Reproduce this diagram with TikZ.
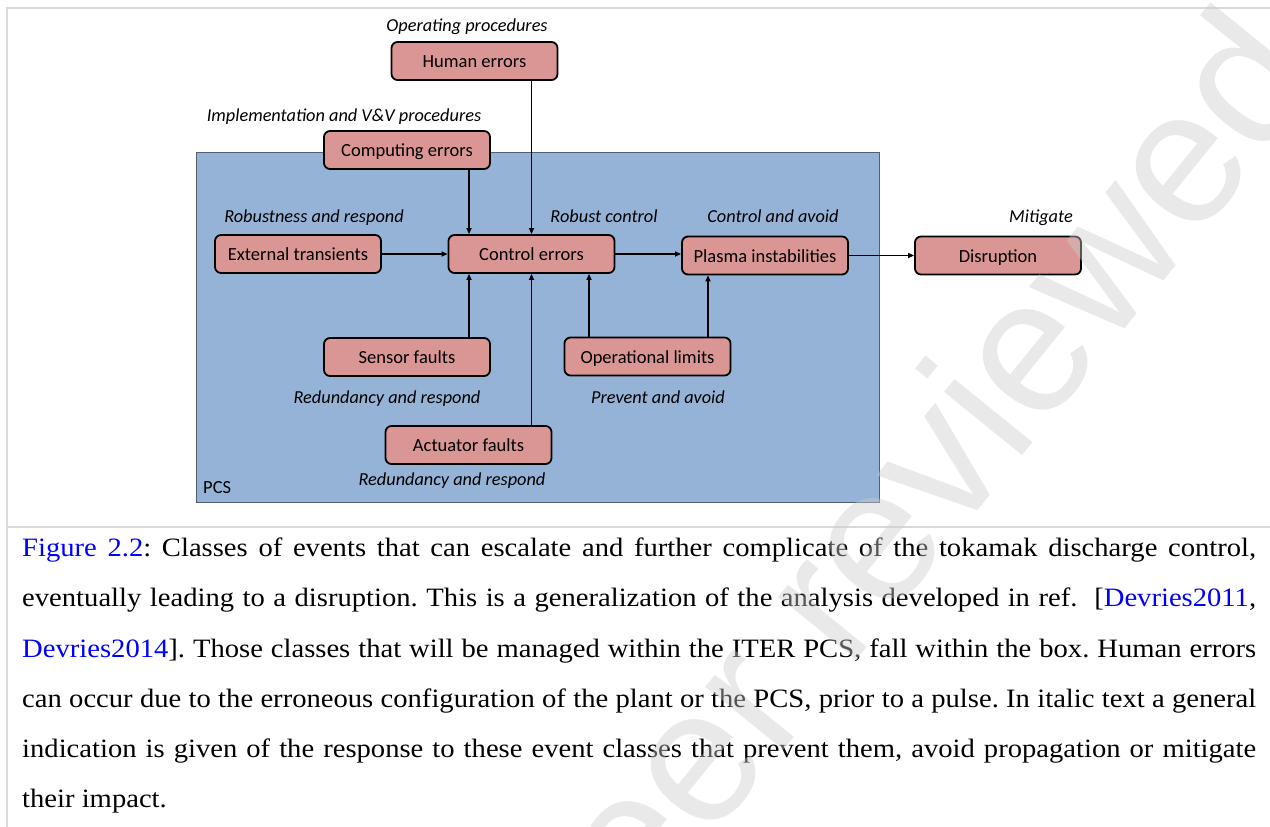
\documentclass[tikz,border=0pt]{standalone}
\usepackage{fontspec}
\setmainfont{Liberation Serif}
\newfontfamily\diafont{Carlito}
\newfontfamily\capfont[FakeStretch=1.08]{Liberation Serif}
\newfontfamily\wmfont{Liberation Sans}
\usetikzlibrary{arrows.meta}

\definecolor{pcsblue}{RGB}{149,179,215}
\definecolor{pcsedge}{RGB}{80,95,115}
\definecolor{evfill}{RGB}{217,150,148}
\definecolor{rulegray}{RGB}{217,217,217}
\definecolor{linkblue}{RGB}{0,0,255}
\definecolor{wmgray}{RGB}{204,204,204}

\begin{document}
\begin{tikzpicture}[x=1pt,y=-1pt,
  event/.style={draw=black, line width=1.8pt, fill=evfill, rounded corners=6pt,
    minimum width=166pt, minimum height=38pt, inner sep=0pt,
    font=\diafont\fontsize{18.5}{22}\selectfont, text height=13pt, text depth=0pt},
  resp/.style={font=\diafont\itshape\fontsize{18.3}{22}\selectfont, inner sep=0pt, anchor=base},
  link/.style={line width=1.5pt, -{Triangle[length=6pt,width=5pt]}},
  rulefr/.style={rulegray, line width=2pt},
  capline/.style={anchor=base west, inner sep=0pt,
    font=\capfont\fontsize{26.5}{30}\selectfont\frenchspacing}
]
\useasboundingbox (0,0) rectangle (1270,827);
\fill[white] (0,0) rectangle (1270,827);

% table rules around the figure and its caption
\draw[rulefr] (7,827) -- (7,8) -- (1270,8);
\draw[rulefr] (7,527) -- (1270,527);

% plasma control system region
\node[draw=pcsedge, fill=pcsblue, line width=1.3pt, minimum width=683pt,
      minimum height=350pt, anchor=north west, inner sep=0pt] (pcs) at (196,152) {};
\node[font=\diafont\fontsize{18.5}{22}\selectfont, anchor=base west, inner sep=0pt]
      (pcslabel) at (203,493) {PCS};

% event classes
\node[event] (human)      at (474.5,61)   {Human errors};
\node[event] (computing)  at (407,150)    {Computing errors};
\node[event] (external)   at (298,254)    {External transients};
\node[event] (control)    at (531.5,254)  {Control errors};
\node[event] (plasma)     at (765,255.5)  {Plasma instabilities};
\node[event] (disruption) at (998,255.5)  {Disruption};
\node[event] (sensor)     at (407,357)    {Sensor faults};
\node[event] (oplimits)   at (647.5,356.5){Operational limits};
\node[event] (actuator)   at (468.5,445)  {Actuator faults};

% responses
\node[resp] (rHuman)      at (467,31)     {Operating procedures};
\node[resp] (rComputing)  at (344,121)    {Implementation and V\&V procedures};
\node[resp] (rExternal)   at (314,222.5)  {Robustness and respond};
\node[resp] (rControl)    at (604,222.5)  {Robust control};
\node[resp] (rPlasma)     at (773,222.5)  {Control and avoid};
\node[resp] (rDisruption) at (1041,222.5) {Mitigate};
\node[resp] (rSensor)     at (387,403)    {Redundancy and respond};
\node[resp] (rOplimits)   at (658,403)    {Prevent and avoid};
\node[resp] (rActuator)   at (452,485)    {Redundancy and respond};

% columns of the vertical connectors
\coordinate (xa) at (469,0);
\coordinate (xc) at (589,0);
\coordinate (xd) at (708,0);

% propagation
\draw[link] (computing.south -| xa) -- (control.north -| xa);
\draw[link] (human.south -| control.north) -- (control.north);
\draw[link] (external) -- (control);
\draw[link] (control.east) -- (control.east -| plasma.west);
\draw[link] (plasma) -- (disruption);
\draw[link] (sensor.north -| xa) -- (control.south -| xa);
\draw[link] (actuator.north -| control.south) -- (control.south);
\draw[link] (oplimits.north -| xc) -- (control.south -| xc);
\draw[link] (oplimits.north -| xd) -- (plasma.south -| xd);

% caption
\node[capline] (cap1) at (22,556) {\makebox[1234pt][s]{\textcolor{linkblue}{Figure 2.2}: Classes of events that can escalate and further complicate of the tokamak discharge control,}};
\node[capline] (cap2) at (22,606.5) {\makebox[1234pt][s]{eventually leading to a disruption. This is a generalization of the analysis developed in ref.\ \ [\textcolor{linkblue}{Devries2011},}};
\node[capline] (cap3) at (22,657) {\makebox[1234pt][s]{\textcolor{linkblue}{Devries2014}]. Those classes that will be managed within the ITER PCS, fall within the box. Human errors}};
\node[capline] (cap4) at (22,707) {\makebox[1234pt][s]{can occur due to the erroneous configuration of the plant or the PCS, prior to a pulse. In italic text a general}};
\node[capline] (cap5) at (22,757) {\makebox[1234pt][s]{indication is given of the response to these event classes that prevent them, avoid propagation or mitigate}};
\node[capline] (cap6) at (22,807) {their impact.};

% watermark over the page
\begin{scope}
\clip (0,0) rectangle (1270,827);
\node[rotate=51, font=\wmfont\fontsize{190}{190}\selectfont, text=wmgray,
      text opacity=0.42, inner sep=0pt] (wm) at (913,512) {peer reviewed};
\end{scope}
\end{tikzpicture}
\end{document}
